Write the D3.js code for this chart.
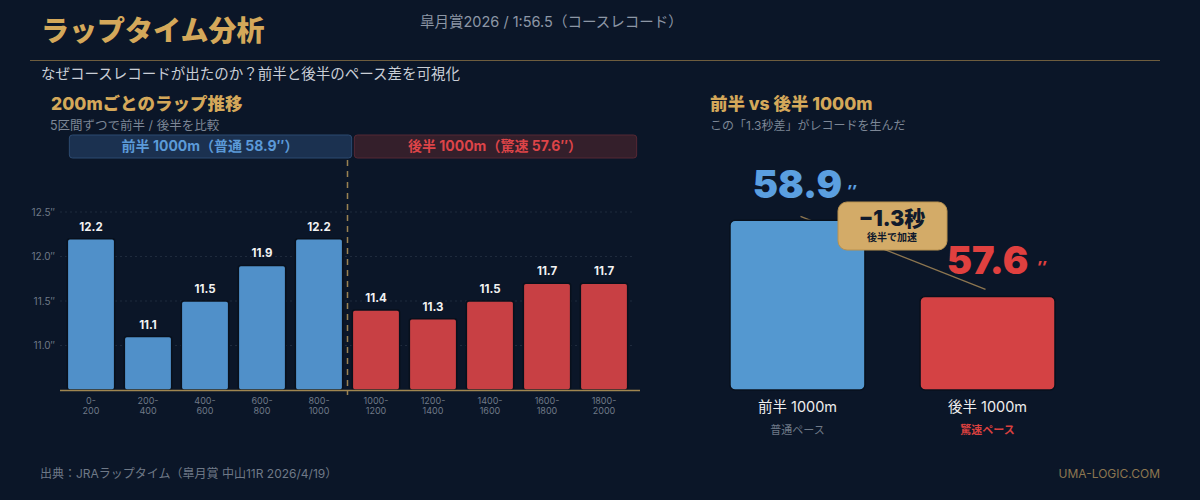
<!DOCTYPE html>
<html>
<head>
<meta charset="utf-8">
<script src="https://cdn.jsdelivr.net/npm/d3@7"></script>
<style>
  html, body { margin: 0; padding: 0; background: #0b1628; }
  svg { display: block; font-family: Inter, "Noto Sans CJK JP", sans-serif; }
</style>
</head>
<body>
<div id="chart"></div>
<script>
// 200mごとのラップ
const sections = ["0-200", "200-400", "400-600", "600-800", "800-1000",
                  "1000-1200", "1200-1400", "1400-1600", "1600-1800", "1800-2000"];
const laps = [12.2, 11.1, 11.5, 11.9, 12.2, 11.4, 11.3, 11.5, 11.7, 11.7];
const yTicks = [11.0, 11.5, 12.0, 12.5];

// 前半 / 後半
const halves = ["前半 1000m", "後半 1000m"];
const halfTimes = [58.9, 57.6];
const halfNotes = ["普通ペース", "驚速ペース"];

const W = 1200, H = 500;
const gold = "#d4a85a", blue = "#5090c9", red = "#c84044";

const svg = d3.select("#chart").append("svg")
    .attr("width", W)
    .attr("height", H);

svg.append("rect").attr("width", W).attr("height", H).attr("fill", "#0b1628");

// ヘッダー
svg.append("text")
    .attr("x", 41).attr("y", 41)
    .attr("fill", gold)
    .attr("font-size", 28).attr("font-weight", 900)
    .text("ラップタイム分析");

svg.append("text")
    .attr("x", 420).attr("y", 27)
    .attr("fill", "#8d97a6")
    .attr("font-size", 14.5)
    .text("皐月賞2026 / 1:56.5（コースレコード）");

svg.append("line")
    .attr("x1", 30).attr("x2", 1160)
    .attr("y1", 60.5).attr("y2", 60.5)
    .attr("stroke", "#6e5d3e").attr("stroke-width", 1);

svg.append("text")
    .attr("x", 41).attr("y", 79)
    .attr("fill", "#c9ced6")
    .attr("font-size", 14.5)
    .text("なぜコースレコードが出たのか？前半と後半のペース差を可視化");

// ---- 左: ラップ推移 ----
svg.append("text")
    .attr("x", 51).attr("y", 110)
    .attr("fill", gold).attr("font-size", 17.5).attr("font-weight", 800)
    .text("200mごとのラップ推移");
svg.append("text")
    .attr("x", 50).attr("y", 130)
    .attr("fill", "#7d8796").attr("font-size", 12.5)
    .text("5区間ずつで前半 / 後半を比較");

const x = d3.scaleBand()
    .domain(sections)
    .range([62.5, 632.5])
    .paddingInner(0.17)
    .paddingOuter(0.085);

const y = d3.scaleLinear()
    .domain([10.5, 12.5])
    .range([390, 212]);

const left = svg.append("g");

// グリッド
left.append("g").selectAll("line")
    .data(yTicks)
    .join("line")
    .attr("x1", 60).attr("x2", 632)
    .attr("y1", d => y(d)).attr("y2", d => y(d))
    .attr("stroke", "#1f2b3d").attr("stroke-dasharray", "2,3");

left.append("g").selectAll("text")
    .data(yTicks)
    .join("text")
    .attr("x", 55).attr("y", d => y(d) + 3.5)
    .attr("text-anchor", "end")
    .attr("fill", "#6f7987").attr("font-size", 10)
    .text(d => d.toFixed(1) + "″");

// 前半 / 後半 のラベル帯
const bands = [
    {from: 0, to: 4, text: "前半 1000m（普通 58.9″）", fill: "#1b3150", stroke: "#2c4a70", color: "#5b9ad8"},
    {from: 5, to: 9, text: "後半 1000m（驚速 57.6″）", fill: "#341f2b", stroke: "#552834", color: "#dd4448"}
];
const bandG = left.append("g").selectAll("g").data(bands).join("g");
bandG.append("rect")
    .attr("x", d => x(sections[d.from]) + 2)
    .attr("width", d => x(sections[d.to]) + x.bandwidth() - x(sections[d.from]) + 7)
    .attr("y", 135).attr("height", 23).attr("rx", 3)
    .attr("fill", d => d.fill).attr("stroke", d => d.stroke);
bandG.append("text")
    .attr("x", d => (x(sections[d.from]) + x(sections[d.to]) + x.bandwidth()) / 2 + 5)
    .attr("y", 151)
    .attr("text-anchor", "middle")
    .attr("fill", d => d.color).attr("font-size", 14).attr("font-weight", 700)
    .text(d => d.text);

// 棒
left.append("g").selectAll("rect")
    .data(laps)
    .join("rect")
    .attr("x", (d, i) => x(sections[i]))
    .attr("width", x.bandwidth())
    .attr("y", d => y(d))
    .attr("height", d => y(10.5) - y(d))
    .attr("rx", 2.5)
    .attr("fill", (d, i) => i < 5 ? blue : red)
    .attr("stroke", "#08101c").attr("stroke-width", 1.5);

left.append("g").selectAll("text")
    .data(laps)
    .join("text")
    .attr("x", (d, i) => x(sections[i]) + x.bandwidth() / 2)
    .attr("y", d => y(d) - 8)
    .attr("text-anchor", "middle")
    .attr("fill", "#f2f2f2").attr("font-size", 11.5).attr("font-weight", 700)
    .text(d => d.toFixed(1));

// 軸
left.append("line")
    .attr("x1", 60).attr("x2", 640)
    .attr("y1", 390.5).attr("y2", 390.5)
    .attr("stroke", "#a08650").attr("stroke-width", 1.5);

const xLab = left.append("g").selectAll("text")
    .data(sections)
    .join("text")
    .attr("text-anchor", "middle")
    .attr("fill", "#6f7987").attr("font-size", 9);
xLab.append("tspan")
    .attr("x", d => x(d) + x.bandwidth() / 2).attr("y", 404)
    .text(d => d.split("-")[0] + "-");
xLab.append("tspan")
    .attr("x", d => x(d) + x.bandwidth() / 2).attr("y", 414)
    .text(d => d.split("-")[1]);

// 区切り線
const splitX = (x(sections[4]) + x.bandwidth() + x(sections[5])) / 2;
left.append("line")
    .attr("x1", splitX).attr("x2", splitX)
    .attr("y1", 160).attr("y2", 395)
    .attr("stroke", "#9a8252").attr("stroke-width", 1.5)
    .attr("stroke-dasharray", "6,5");

// ---- 右: 前半 vs 後半 ----
svg.append("text")
    .attr("x", 710).attr("y", 110)
    .attr("fill", gold).attr("font-size", 17.5).attr("font-weight", 800)
    .text("前半 vs 後半 1000m");
svg.append("text")
    .attr("x", 710).attr("y", 130)
    .attr("fill", "#7d8796").attr("font-size", 12)
    .text("この「1.3秒差」がレコードを生んだ");

const x2 = d3.scaleBand()
    .domain(halves)
    .range([711, 1074])
    .paddingInner(0.29)
    .paddingOuter(0.1);

const y2 = d3.scaleLinear()
    .domain([56, 60])
    .range([390, 156]);

const right = svg.append("g");
const cx = d => x2(d) + x2.bandwidth() / 2;

// 接続線
right.append("line")
    .attr("x1", cx(halves[0]) + 3).attr("y1", y2(halfTimes[0]) - 4)
    .attr("x2", cx(halves[1]) - 2).attr("y2", y2(halfTimes[1]) - 7)
    .attr("stroke", "#8d7650").attr("stroke-width", 1.3);

right.append("g").selectAll("rect")
    .data(halfTimes)
    .join("rect")
    .attr("x", (d, i) => x2(halves[i]))
    .attr("width", x2.bandwidth())
    .attr("y", d => y2(d))
    .attr("height", d => y2(56) - y2(d))
    .attr("rx", 5)
    .attr("fill", (d, i) => i === 0 ? "#5498d0" : "#d44244")
    .attr("stroke", "#08101c").attr("stroke-width", 1.5);

const big = right.append("g").selectAll("g")
    .data(halfTimes)
    .join("g");
big.append("text")
    .attr("x", (d, i) => cx(halves[i]))
    .attr("y", d => y2(d) - 22)
    .attr("text-anchor", "middle")
    .attr("fill", (d, i) => i === 0 ? "#5b9fe0" : "#e0403f")
    .attr("font-size", 38).attr("font-weight", 900)
    .text(d => d.toFixed(1));
big.append("text")
    .attr("x", (d, i) => cx(halves[i]) + 54)
    .attr("y", d => y2(d) - 24)
    .attr("text-anchor", "middle")
    .attr("fill", (d, i) => i === 0 ? "#5b9fe0" : "#e0403f")
    .attr("font-size", 15).attr("font-weight", 900).attr("font-style", "italic")
    .text("″");

right.append("g").selectAll("text")
    .data(halves)
    .join("text")
    .attr("x", d => cx(d)).attr("y", 412)
    .attr("text-anchor", "middle")
    .attr("fill", "#eeeeee").attr("font-size", 14.5)
    .text(d => d);

right.append("g").selectAll("text")
    .data(halfNotes)
    .join("text")
    .attr("x", (d, i) => cx(halves[i])).attr("y", 434)
    .attr("text-anchor", "middle")
    .attr("fill", (d, i) => i === 0 ? "#6f7987" : "#d9403f")
    .attr("font-size", 11).attr("font-weight", (d, i) => i === 0 ? 400 : 700)
    .text(d => d);

// 差分バッジ
const diff = halfTimes[1] - halfTimes[0];
const badge = right.append("g").attr("transform", "translate(892,226)");
badge.append("rect")
    .attr("x", -54).attr("y", -24).attr("width", 109).attr("height", 48).attr("rx", 9)
    .attr("fill", "#d3ab68").attr("stroke", "#b8914f").attr("stroke-width", 1);
badge.append("text")
    .attr("y", 0)
    .attr("text-anchor", "middle")
    .attr("fill", "#101a2c").attr("font-size", 21).attr("font-weight", 900)
    .text("−" + Math.abs(diff).toFixed(1) + "秒");
badge.append("text")
    .attr("y", 15)
    .attr("text-anchor", "middle")
    .attr("fill", "#101a2c").attr("font-size", 10).attr("font-weight", 700)
    .text("後半で加速");

// フッター
svg.append("text")
    .attr("x", 40).attr("y", 478)
    .attr("fill", "#6f7987").attr("font-size", 12)
    .text("出典：JRAラップタイム（皐月賞 中山11R 2026/4/19）");
svg.append("text")
    .attr("x", 1160).attr("y", 478)
    .attr("text-anchor", "end")
    .attr("fill", "#8d7650").attr("font-size", 12)
    .text("UMA-LOGIC.COM");
</script>
</body>
</html>
